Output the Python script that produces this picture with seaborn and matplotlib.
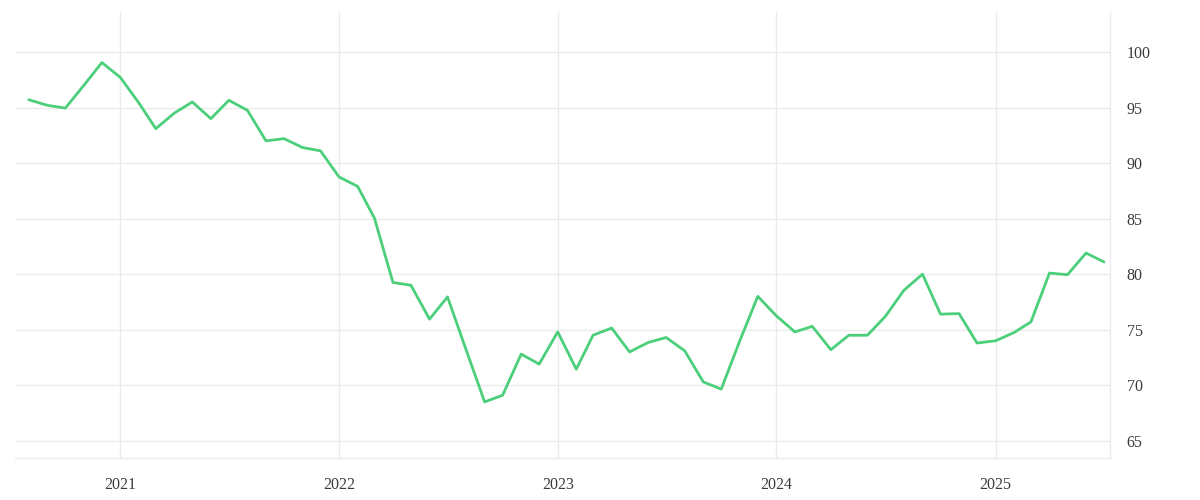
import pandas as pd
import matplotlib
matplotlib.use("Agg")
import matplotlib.pyplot as plt
import matplotlib.dates as mdates
import seaborn as sns

# Monthly index values, Aug 2020 - Jul 2025
start_month = "2020-08-01"
values = [
    95.7, 95.2, 94.95, 97.0, 99.05,
    97.7, 95.4, 93.1, 94.5, 95.5, 94.0, 95.65, 94.75, 92.0, 92.2, 91.4, 91.1,
    88.75, 87.9, 85.05, 79.25, 79.0, 75.95, 77.95, 73.2, 68.5, 69.1, 72.8, 71.9,
    74.8, 71.45, 74.5, 75.15, 73.0, 73.85, 74.3, 73.1, 70.3, 69.65, 74.0, 78.0,
    76.25, 74.8, 75.3, 73.2, 74.5, 74.5, 76.2, 78.55, 80.0, 76.4, 76.45, 73.8,
    74.0, 74.75, 75.7, 80.1, 79.95, 81.9, 81.1,
]
y_ticks = [65, 70, 75, 80, 85, 90, 95, 100]
year_ticks = ["2021", "2022", "2023", "2024", "2025"]

df = pd.DataFrame({
    "date": pd.date_range(start_month, periods=len(values), freq="MS"),
    "value": values,
})

sns.set_style("whitegrid")
plt.rcParams["font.family"] = ["Liberation Serif", "DejaVu Serif"]

fig = plt.figure(figsize=(12, 5), dpi=100)
ax = fig.add_axes([0.0125, 0.084, 0.9125, 0.892])

sns.lineplot(data=df, x="date", y="value", ax=ax, color="#4ccf7a", linewidth=2.0)

ax.set_xlim(pd.Timestamp("2020-07-09"), pd.Timestamp("2025-07-11"))
ax.set_ylim(63.45, 103.6)
ax.set_yticks(y_ticks)
ax.set_xticks([pd.Timestamp(f"{y}-01-01") for y in year_ticks])
ax.xaxis.set_major_formatter(mdates.DateFormatter("%Y"))
ax.yaxis.tick_right()

ax.grid(True, color="#ebebeb", linewidth=1)
for side in ["top", "left"]:
    ax.spines[side].set_visible(False)
for side in ["bottom", "right"]:
    ax.spines[side].set_color("#ebebeb")
    ax.spines[side].set_linewidth(1)

ax.tick_params(axis="both", length=0, labelsize=11.5, colors="#3a3a3a")
ax.tick_params(axis="y", pad=12)
ax.tick_params(axis="x", pad=14)
ax.set_xlabel("")
ax.set_ylabel("")

fig.savefig("out.png", dpi=100)
